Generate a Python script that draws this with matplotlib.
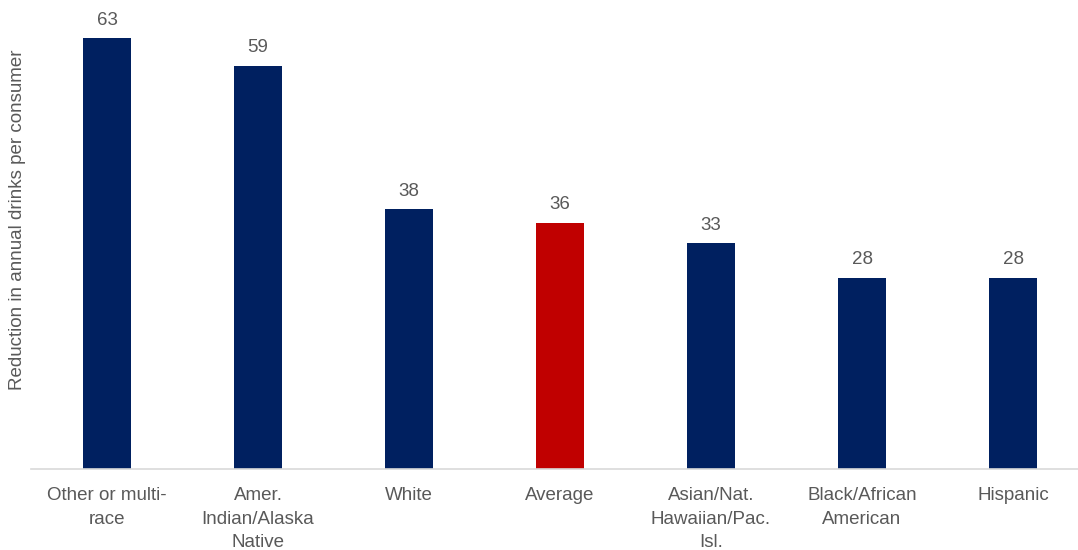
import matplotlib.pyplot as plt

plt.rcParams['font.family'] = ['Liberation Sans', 'DejaVu Sans']

# Reduction in annual drinks per consumer, by race/ethnicity
groups = ['Other or multi-\nrace', 'Amer.\nIndian/Alaska\nNative', 'White', 'Average',
          'Asian/Nat.\nHawaiian/Pac.\nIsl.', 'Black/African\nAmerican', 'Hispanic']
reduction = [63, 59, 38, 36, 33, 28, 28]
colors = ['#002060', '#002060', '#002060', '#C00000', '#002060', '#002060', '#002060']

fig = plt.figure(figsize=(10.78, 5.5), dpi=100)
ax = fig.add_axes([31 / 1078, 1 - 469 / 550, 1 - 31 / 1078, 469 / 550])

x = range(len(groups))
bars = ax.bar(x, reduction, width=0.32, color=colors)

for b, v in zip(bars, reduction):
    ax.text(b.get_x() + b.get_width() / 2, v + 1.4, str(v), ha='center', va='bottom',
            fontsize=13.5, color='#595959')

ax.set_xlim(-0.503, 6.43)
ax.set_ylim(0, 68.6)
ax.set_xticks(list(x))
ax.set_xticklabels(groups, fontsize=13.5, color='#595959', linespacing=1.5)
ax.tick_params(axis='x', length=0, pad=13)
ax.set_yticks([])

for s in ['top', 'right', 'left']:
    ax.spines[s].set_visible(False)
ax.spines['bottom'].set_color('#d9d9d9')
ax.spines['bottom'].set_linewidth(1.2)

fig.text(18 / 1078, 1 - 220 / 550, 'Reduction in annual drinks per consumer', rotation=90,
         ha='center', va='center', fontsize=13.5, color='#595959')

fig.savefig('out.png', dpi=100)
